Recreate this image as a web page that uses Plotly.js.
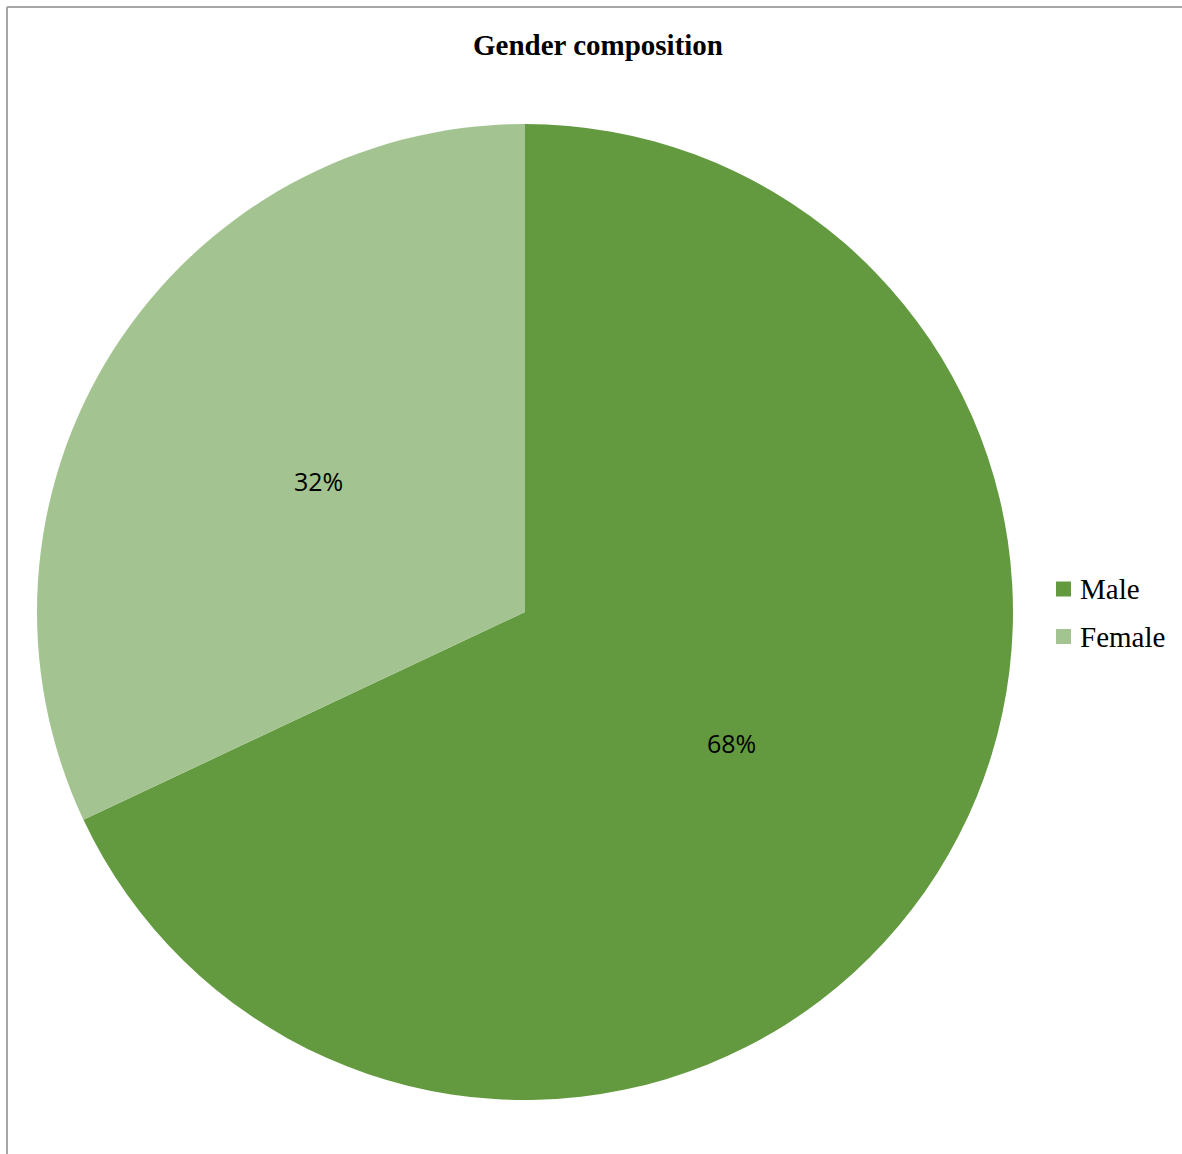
<!DOCTYPE html>
<html>
<head>
<meta charset="utf-8">
<script src="https://cdn.plot.ly/plotly-3.0.1.min.js"></script>
<style>html,body{margin:0;padding:0;background:#fff;}#chart{width:1182px;height:1154px;}</style>
</head>
<body>
<div id="chart"></div>
<script>
const labels = ["Male", "Female"];
const values = [68, 32];
const colors = ["#639a3f", "#a3c490"];
const chartTitle = "Gender composition";

const W = 1182, H = 1154;
const cx = 525, cy = 612, R = 488;

// percentage labels placed at half radius along each slice's mid angle
const total = values.reduce((a, b) => a + b, 0);
let acc = 0;
const labelAnns = values.map((v) => {
  const mid = (acc + v / 2) / total * 2 * Math.PI; // clockwise from top
  acc += v;
  const px = cx + 0.5 * R * Math.sin(mid);
  const py = cy - 0.5 * R * Math.cos(mid);
  return {
    x: px / W, y: 1 - py / H, xref: "paper", yref: "paper",
    xanchor: "center", yanchor: "middle",
    text: Math.round(v / total * 100) + "%", showarrow: false,
    font: {family: "Open Sans, sans-serif", size: 25, color: "#000"}
  };
});

// custom legend (square markers + labels) built from the data arrays
const legX = 1056, legY0 = 589, legStep = 47.5, sq = 15;
const legendShapes = labels.map((l, i) => ({
  type: "rect", xref: "paper", yref: "paper",
  x0: legX / W, x1: (legX + sq) / W,
  y0: 1 - (legY0 + i * legStep + sq / 2) / H, y1: 1 - (legY0 + i * legStep - sq / 2) / H,
  fillcolor: colors[i], line: {width: 0}
}));
const legendAnns = labels.map((l, i) => ({
  x: (legX + sq + 7) / W, y: 1 - (legY0 + i * legStep) / H, xref: "paper", yref: "paper",
  xanchor: "left", yanchor: "middle", showarrow: false, text: l,
  font: {family: "Liberation Serif, Times New Roman, serif", size: 29, color: "#000"}
}));

const data = [{
  type: "pie",
  labels: labels,
  values: values,
  marker: {colors: colors, line: {width: 0}},
  sort: false,
  direction: "clockwise",
  rotation: 0,
  textinfo: "none",
  hoverinfo: "label+percent",
  domain: {x: [(cx - R) / W, (cx + R) / W], y: [1 - (cy + R) / H, 1 - (cy - R) / H]}
}];

const layout = {
  width: W, height: H,
  margin: {l: 0, r: 0, t: 0, b: 0},
  paper_bgcolor: "#fff",
  showlegend: false,
  title: {text: "<b>" + chartTitle + "</b>", x: 598 / W, xanchor: "center", y: 1 - 45 / H, yanchor: "middle",
          font: {family: "Liberation Serif, Times New Roman, serif", size: 29, color: "#000"}},
  annotations: labelAnns.concat(legendAnns),
  shapes: [
    {type: "line", xref: "paper", yref: "paper", x0: 7 / W, x1: 7 / W, y0: 0, y1: 1 - 7 / H, line: {color: "#a6a6a6", width: 2}},
    {type: "line", xref: "paper", yref: "paper", x0: 7 / W, x1: 1, y0: 1 - 7 / H, y1: 1 - 7 / H, line: {color: "#a6a6a6", width: 2}}
  ].concat(legendShapes)
};

Plotly.newPlot("chart", data, layout, {displayModeBar: false});
</script>
</body>
</html>
